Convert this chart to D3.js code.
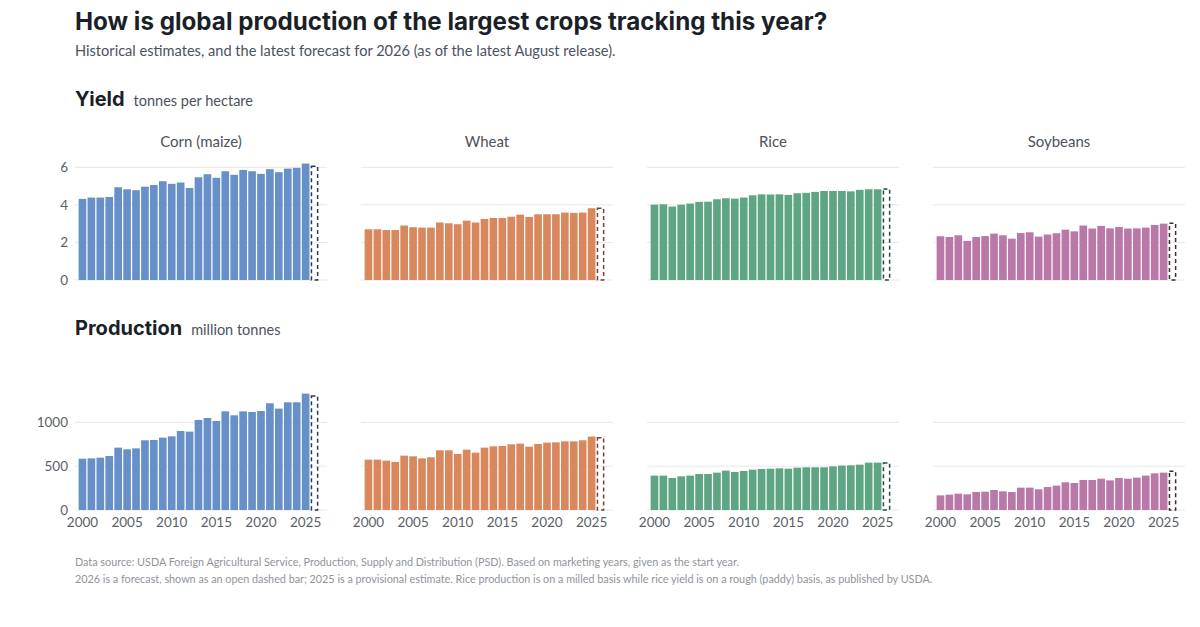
<!DOCTYPE html>
<html><head><meta charset="utf-8">
<script src="https://cdn.jsdelivr.net/npm/d3@7"></script>
<style>
body{margin:0;background:#fff;}
svg{display:block;}
</style></head>
<body>
<svg id="c" width="1200" height="627"></svg>
<script>
const years = d3.range(2000, 2027);
const crops = ["Corn (maize)", "Wheat", "Rice", "Soybeans"];
const fills = ["#6890c8", "#d9875d", "#5ea584", "#ba78a8"];
const dashColors = ["#2a3a55", "#7a4036", "#294a3c", "#3d2b38"];

const cornYield = [4.32,4.39,4.39,4.42,4.94,4.83,4.78,4.97,5.06,5.26,5.12,5.19,4.90,5.47,5.63,5.44,5.79,5.60,5.86,5.79,5.65,5.90,5.74,5.93,5.97,6.20,6.06];
const wheatYield = [2.70,2.70,2.66,2.66,2.90,2.81,2.79,2.79,3.06,3.02,2.97,3.16,3.06,3.25,3.30,3.30,3.37,3.48,3.36,3.50,3.50,3.50,3.59,3.57,3.59,3.82,3.82];
const riceYield = [4.01,4.03,3.91,4.01,4.07,4.16,4.17,4.30,4.35,4.33,4.39,4.51,4.56,4.55,4.56,4.53,4.62,4.64,4.69,4.74,4.74,4.74,4.72,4.80,4.83,4.83,4.85];
const soyYield = [2.33,2.29,2.38,2.08,2.29,2.34,2.47,2.38,2.20,2.50,2.54,2.31,2.42,2.49,2.68,2.59,2.90,2.74,2.88,2.75,2.82,2.74,2.75,2.79,2.93,3.00,3.02];

const cornProd = [585,589,597,616,711,692,703,795,798,825,840,901,894,1027,1049,1015,1125,1080,1125,1118,1129,1217,1156,1228,1228,1327,1300];
const wheatProd = [574,574,563,548,620,612,589,601,681,681,639,688,654,711,726,730,749,757,722,753,768,772,783,783,795,837,825];
const riceProd = [392,392,365,384,392,411,411,426,449,433,445,460,468,471,475,471,483,487,487,487,498,506,510,517,540,540,536];
const soyProd = [167,175,186,179,205,209,228,213,205,255,255,236,262,278,316,308,342,342,357,338,365,357,369,392,418,426,441];

const yieldTicks = [0, 2, 4, 6];
const prodTicks = [0, 500, 1000];
const xTicks = [2000, 2005, 2010, 2015, 2020, 2025];
const forecastYear = 2026;

const yieldSeries = [cornYield, wheatYield, riceYield, soyYield];
const prodSeries = [cornProd, wheatProd, riceProd, soyProd];

const svg = d3.select("#c");
const LATO = "Lato, 'Open Sans', sans-serif";
const INTER = "Inter, 'Noto Sans', sans-serif";

svg.append("text").attr("x", 75).attr("y", 30).attr("font-family", INTER).attr("font-weight", 700)
  .attr("font-size", 24.2).attr("fill", "#1b1f28").text("How is global production of the largest crops tracking this year?");
svg.append("text").attr("x", 75).attr("y", 56).attr("font-family", LATO)
  .attr("font-size", 14.6).attr("fill", "#4b5260").text("Historical estimates, and the latest forecast for 2026 (as of the latest August release).");

function sectionTitle(y, main, sub) {
  const t = svg.append("text").attr("x", 75).attr("y", y).attr("font-family", INTER).attr("fill", "#1b1f28");
  t.append("tspan").attr("font-weight", 700).attr("font-size", 20).text(main);
  t.append("tspan").attr("dx", 9).attr("font-family", LATO).attr("font-size", 14.5).attr("fill", "#4b5260").text(sub);
}
sectionTitle(106, "Yield", "tonnes per hectare");
sectionTitle(335, "Production", "million tonnes");

const panelX0 = 75, panelStep = 286, panelW = 252;

function drawRow(series, y, ticks, showX, showTitles) {
  crops.forEach((crop, i) => {
    const px = panelX0 + i * panelStep;
    const g = svg.append("g").attr("transform", `translate(${px},0)`);
    const x = d3.scaleBand().domain(years).range([3, 244]).paddingInner(0.14).paddingOuter(0.07);
    g.selectAll("line.grid").data(ticks).join("line")
      .attr("x1", 0).attr("x2", panelW).attr("y1", d => y(d)).attr("y2", d => y(d))
      .attr("stroke", "#e6e7ea").attr("stroke-width", 1);
    const data = years.map((yr, k) => ({yr, v: series[i][k]}));
    g.selectAll("rect.bar").data(data.filter(d => d.yr !== forecastYear)).join("rect")
      .attr("x", d => x(d.yr)).attr("width", x.bandwidth())
      .attr("y", d => y(d.v)).attr("height", d => y(0) - y(d.v))
      .attr("fill", fills[i]);
    const f = data.find(d => d.yr === forecastYear);
    g.append("rect").attr("x", x(f.yr) + 0.75).attr("width", x.bandwidth() - 1.5)
      .attr("y", y(f.v)).attr("height", y(0) - y(f.v))
      .attr("fill", "none").attr("stroke", dashColors[i]).attr("stroke-width", 1.5)
      .attr("stroke-dasharray", "4,3");
    if (i === 0) {
      g.selectAll("text.yt").data(ticks).join("text")
        .attr("x", -7).attr("y", d => y(d)).attr("dy", "0.35em").attr("text-anchor", "end")
        .attr("font-family", LATO).attr("font-size", 13.5).attr("fill", "#5a5f68")
        .text(d => d);
    }
    if (showX) {
      g.selectAll("text.xt").data(xTicks).join("text")
        .attr("x", d => x(d) + x.bandwidth() / 2).attr("y", 527).attr("text-anchor", "middle")
        .attr("font-family", LATO).attr("font-size", 13.5).attr("fill", "#5a5f68")
        .text(d => d);
    }
    if (showTitles) {
      g.append("text").attr("x", panelW / 2).attr("y", 147).attr("text-anchor", "middle")
        .attr("font-family", LATO).attr("font-size", 15).attr("fill", "#4b5260").text(crop);
    }
  });
}

const yY = d3.scaleLinear().domain([0, 6]).range([280, 167.3]);
const yP = d3.scaleLinear().domain([0, 1000]).range([510, 422.3]);
drawRow(yieldSeries, yY, yieldTicks, false, true);
drawRow(prodSeries, yP, prodTicks, true, false);

svg.append("text").attr("x", 75).attr("y", 566).attr("font-family", LATO).attr("font-size", 10.8)
  .attr("fill", "#8f949c").text("Data source: USDA Foreign Agricultural Service, Production, Supply and Distribution (PSD). Based on marketing years, given as the start year.");
svg.append("text").attr("x", 75).attr("y", 583).attr("font-family", LATO).attr("font-size", 10.8)
  .attr("fill", "#8f949c").text("2026 is a forecast, shown as an open dashed bar; 2025 is a provisional estimate. Rice production is on a milled basis while rice yield is on a rough (paddy) basis, as published by USDA.");
</script>
</body></html>
